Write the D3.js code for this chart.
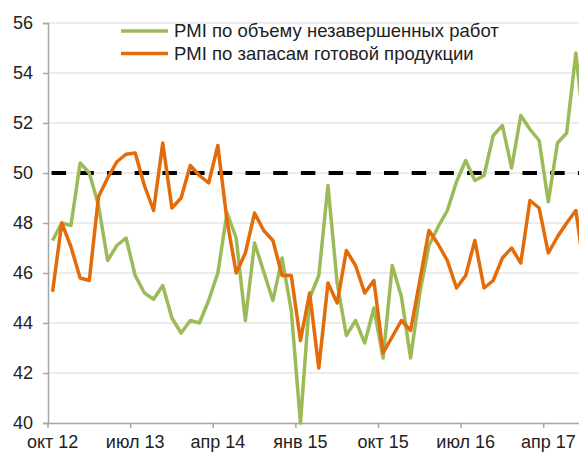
<!DOCTYPE html>
<html>
<head>
<meta charset="utf-8">
<script src="https://cdn.jsdelivr.net/npm/d3@7"></script>
<style>
  body { margin:0; background:#fff; }
  svg { display:block; font-family:"Liberation Sans", Arial, sans-serif; }
</style>
</head>
<body>
<svg></svg>
<script>
var screen = {width:579, height:454}
var margins = {top:23, left:48}

// months Oct 2012 .. Aug 2017
var months = d3.timeMonth.range(new Date(2012,9,1), new Date(2017,8,1))
var monthNames = ["янв","фев","мар","апр","май","июн","июл","авг","сен","окт","ноя","дек"]
var tickMonths = ["окт 12","июл 13","апр 14","янв 15","окт 15","июл 16","апр 17"]
var yTicks = [40,42,44,46,48,50,52,54,56]

var seriesNames = ["PMI по объему незавершенных работ", "PMI по запасам готовой продукции"]

var backlog = [47.3,48.0,47.9,50.4,50.0,48.7,46.5,47.1,47.4,45.9,
               45.2,44.95,45.5,44.2,43.6,44.1,44.0,44.9,46.0,48.4,
               47.4,44.1,47.2,46.05,44.9,46.6,44.5,40.0,45.0,45.9,
               49.5,45.6,43.5,44.1,43.2,44.6,42.6,46.3,45.05,42.6,
               45.2,47.1,47.85,48.5,49.65,50.5,49.7,49.9,51.5,51.9,
               50.2,52.3,51.75,51.3,48.85,51.2,51.6,54.8,51.4]

var stocks = [45.25,48.0,47.05,45.8,45.7,49.05,49.8,50.45,50.75,50.8,
              49.5,48.5,51.2,48.6,49.0,50.3,49.9,49.6,51.1,48.1,
              46.0,46.8,48.4,47.7,47.3,45.9,45.9,43.3,45.2,42.2,
              45.6,44.8,46.9,46.3,45.2,45.7,42.8,43.45,44.1,43.7,
              45.7,47.7,47.15,46.5,45.4,45.9,47.3,45.4,45.7,46.6,
              47.0,46.4,48.9,48.6,46.8,47.45,48.0,48.5,45.9]

var threshold = 50
var colors = ["#9bbb59", "#e36c09"]

var label = function(d) {
  return monthNames[d.getMonth()] + " " + String(d.getFullYear()).slice(2)
}

var svg = d3.select("svg")
  .attr("width", screen.width)
  .attr("height", screen.height)

var step = 9.18
var plotHeight = 400

var xScale = d3.scaleBand()
  .domain(months.map(label))
  .range([margins.left, margins.left + months.length*step])

var yScale = d3.scaleLinear()
  .domain([40,56])
  .range([margins.top + plotHeight, margins.top])

var cx = function(i) { return xScale(label(months[i])) + xScale.bandwidth()/2 }

// gridlines
svg.append("g")
  .selectAll("line")
  .data(yTicks.slice(1))
  .enter()
  .append("line")
  .attr("x1", margins.left)
  .attr("x2", screen.width)
  .attr("y1", function(d){ return yScale(d) })
  .attr("y2", function(d){ return yScale(d) })
  .attr("stroke", "#d9d9d9")
  .attr("stroke-width", 1)

// y axis
var yAxis = d3.axisLeft(yScale).tickValues(yTicks).tickSize(5).tickPadding(10)
var yg = svg.append("g")
  .attr("transform", "translate(" + margins.left + ",0)")
  .call(yAxis)
yg.select(".domain").attr("stroke", "#a6a6a6").attr("stroke-width", 1.5)
yg.selectAll(".tick line").attr("stroke", "#a6a6a6").attr("stroke-width", 1.5)
yg.selectAll(".tick text").attr("font-size", 18).attr("fill", "#222")
  .attr("font-family", "Liberation Sans, Arial, sans-serif")

// x axis
var xAxis = d3.axisBottom(xScale).tickValues(tickMonths).tickSize(0).tickPadding(12)
var xg = svg.append("g")
  .attr("transform", "translate(0," + (margins.top + plotHeight) + ")")
  .call(xAxis)
xg.select(".domain").attr("stroke", "#a6a6a6").attr("stroke-width", 1.5)
xg.selectAll(".tick text").attr("font-size", 18).attr("fill", "#222")
  .attr("font-family", "Liberation Sans, Arial, sans-serif")
xg.selectAll(".tick").append("line")
  .attr("x1", -xScale.bandwidth()/2)
  .attr("x2", -xScale.bandwidth()/2)
  .attr("y1", 0)
  .attr("y2", 5)
  .attr("stroke", "#a6a6a6")
  .attr("stroke-width", 1.5)

// threshold dashed
svg.append("path")
  .datum(months.map(function(){ return threshold }))
  .attr("fill", "none")
  .attr("stroke", "#000")
  .attr("stroke-width", 4)
  .attr("stroke-dasharray", "14.5,13.2")
  .attr("d", d3.line()
    .x(function(d, i){ return cx(i) - 1 })
    .y(function(d){ return yScale(d) }))

var linegenerator = d3.line()
  .x(function(d, i){ return cx(i) })
  .y(function(d){ return yScale(d) })

svg.append("g")
  .selectAll("path")
  .data([backlog, stocks])
  .enter()
  .append("path")
  .attr("fill", "none")
  .attr("stroke", function(d, i){ return colors[i] })
  .attr("stroke-width", 3.5)
  .attr("stroke-linejoin", "round")
  .attr("d", linegenerator)

// legend
var legend = svg.append("g")
  .selectAll("g")
  .data(seriesNames)
  .enter()
  .append("g")
  .attr("transform", function(d, i){ return "translate(121," + (31 + i*22.5) + ")" })

legend.append("line")
  .attr("x1", 0).attr("x2", 47)
  .attr("stroke", function(d, i){ return colors[i] })
  .attr("stroke-width", 3.5)

legend.append("text")
  .attr("x", 53)
  .attr("dy", "0.35em")
  .attr("font-size", 18.5)
  .attr("fill", "#222")
  .text(function(d){ return d })
</script>
</body>
</html>
